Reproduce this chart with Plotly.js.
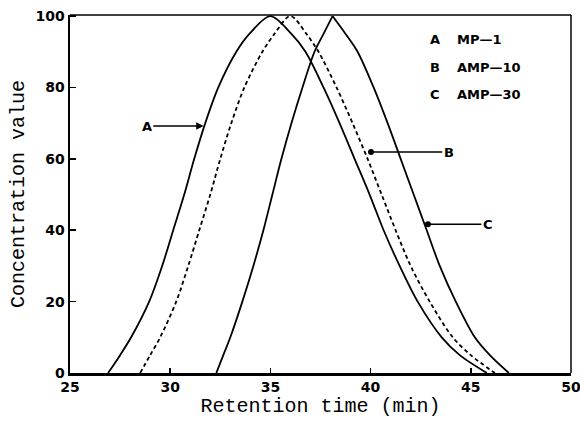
<!DOCTYPE html>
<html>
<head>
<meta charset="utf-8">
<script src="https://cdn.plot.ly/plotly-3.0.1.min.js"></script>
<style>html,body{margin:0;padding:0;background:#fff;}#chart{width:580px;height:423px;}</style>
</head>
<body>
<div id="chart"></div>
<script>
// Concentration levels (rising side then falling side)
var levels = [0, 5, 10, 20, 30, 40, 50, 60, 70, 80, 90, 95, 100, 95, 90, 80, 70, 60, 50, 40, 30, 20, 10, 5, 0];
// Retention time (min) at each level
var timeA = [26.9, 27.5, 28.05, 28.95, 29.6, 30.15, 30.7, 31.2, 31.75, 32.4, 33.3, 33.95, 35.0, 36.05, 36.75, 37.65, 38.45, 39.2, 39.95, 40.65, 41.45, 42.35, 43.55, 44.45, 45.8];
var timeB = [28.5, 29.0, 29.5, 30.3, 30.9, 31.45, 32.0, 32.5, 33.05, 33.7, 34.6, 35.2, 36.0, 36.8, 37.4, 38.3, 39.1, 39.85, 40.55, 41.25, 42.0, 42.95, 44.1, 45.0, 46.2];
var timeC = [32.3, 32.65, 33.0, 33.6, 34.15, 34.65, 35.1, 35.55, 36.05, 36.6, 37.2, 37.65, 38.1, 38.75, 39.35, 40.15, 40.85, 41.5, 42.15, 42.8, 43.45, 44.25, 45.2, 45.95, 46.9];

var xTicks = [25, 30, 35, 40, 45, 50];
var yTicks = [0, 20, 40, 60, 80, 100];

var legendLetters = ["A", "B", "C"];
var legendNames = ["MP\u20141", "AMP\u201410", "AMP\u201430"];

var tickFont = {family: "DejaVu Sans, sans-serif", size: 14, color: "#000", weight: "bold"};
var labelFont = {family: "DejaVu Sans, sans-serif", size: 13, color: "#000", weight: "bold"};
var titleFont = {family: "Liberation Mono, Courier New, monospace", size: 20, color: "#000"};

var lineStyle = {color: "#000", width: 1.8, shape: "spline", smoothing: 0.9};
var peak = levels.indexOf(100);
var traces = [
  {x: timeA, y: levels, mode: "lines", line: lineStyle, hoverinfo: "skip"},
  {x: timeB, y: levels, mode: "lines", line: Object.assign({}, lineStyle, {dash: "4px,3px"}), hoverinfo: "skip"},
  // curve C has a pointed apex: draw its two flanks separately
  {x: timeC.slice(0, peak + 1), y: levels.slice(0, peak + 1), mode: "lines", line: lineStyle, hoverinfo: "skip"},
  {x: timeC.slice(peak), y: levels.slice(peak), mode: "lines", line: lineStyle, hoverinfo: "skip"}
];

var annotations = [];
var legendY = [93.3, 85.7, 77.9];
for (var i = 0; i < 3; i++) {
  annotations.push({x: 42.86, y: legendY[i], xref: "x", yref: "y", text: "<b>" + legendLetters[i] + "</b>", showarrow: false, xanchor: "left", yanchor: "middle", font: labelFont});
  annotations.push({x: 44.2, y: legendY[i], xref: "x", yref: "y", text: "<b>" + legendNames[i] + "</b>", showarrow: false, xanchor: "left", yanchor: "middle", font: labelFont});
}
// arrow labels
annotations.push({x: 31.67, y: 69.2, ax: 28.83, ay: 69.2, axref: "x", ayref: "y", xref: "x", yref: "y", text: "<b>A</b>", showarrow: true, arrowhead: 2, arrowsize: 1, arrowwidth: 1.5, arrowcolor: "#000", font: labelFont});
annotations.push({x: 40.02, y: 61.9, ax: 43.9, ay: 61.9, axref: "x", ayref: "y", xref: "x", yref: "y", text: "<b>B</b>", showarrow: true, arrowhead: 6, arrowsize: 1, arrowwidth: 1.5, arrowcolor: "#000", font: labelFont});
annotations.push({x: 42.86, y: 41.7, ax: 45.85, ay: 41.7, axref: "x", ayref: "y", xref: "x", yref: "y", text: "<b>C</b>", showarrow: true, arrowhead: 6, arrowsize: 1, arrowwidth: 1.5, arrowcolor: "#000", font: labelFont});

var layout = {
  width: 580, height: 423,
  margin: {l: 70, r: 9, t: 15, b: 50},
  paper_bgcolor: "#fff", plot_bgcolor: "#fff",
  showlegend: false,
  xaxis: {
    range: [25, 50], tickvals: xTicks, ticktext: xTicks.map(String),
    ticks: "inside", ticklen: 5, tickwidth: 1.5, tickcolor: "#000",
    showline: true, linewidth: 2.5, linecolor: "#000", mirror: false,
    showgrid: false, zeroline: false, tickfont: tickFont, ticklabeloverflow: "allow",
    title: {text: "Retention time (min)", font: titleFont, standoff: 4}
  },
  yaxis: {
    range: [0, 100.3], tickvals: yTicks, ticktext: yTicks.map(String),
    ticks: "inside", ticklen: 6, tickwidth: 1.5, tickcolor: "#000",
    showline: true, linewidth: 2.5, linecolor: "#000", mirror: false,
    showgrid: false, zeroline: false, tickfont: tickFont, ticklabeloverflow: "allow",
    title: {text: "Concentration value", font: titleFont, standoff: 6}
  },
  shapes: [
    {type: "line", xref: "paper", yref: "paper", x0: 0, x1: 1, y0: 1, y1: 1, line: {color: "#000", width: 1.5}},
    {type: "line", xref: "paper", yref: "paper", x0: 1, x1: 1, y0: 0, y1: 1, line: {color: "#000", width: 1.5}}
  ],
  annotations: annotations
};

Plotly.newPlot("chart", traces, layout, {staticPlot: true, displayModeBar: false});
</script>
</body>
</html>
